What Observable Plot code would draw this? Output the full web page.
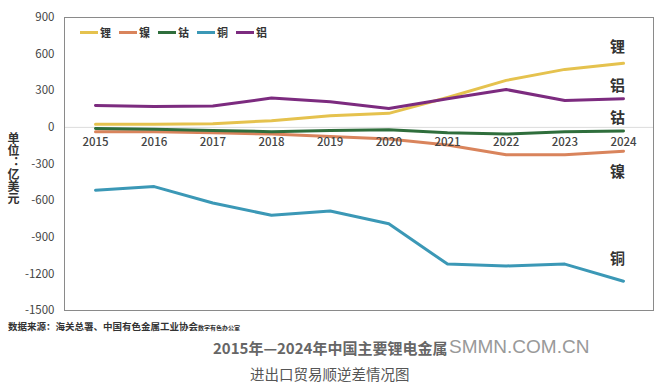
<!DOCTYPE html>
<html><head><meta charset="utf-8">
<script src="https://cdn.jsdelivr.net/npm/d3@7"></script>
<script src="https://cdn.jsdelivr.net/npm/@observablehq/plot@0.6"></script>
<style>
body{margin:0;background:#fff;font-family:"Noto Sans CJK SC","Noto Sans",sans-serif;}
#wrap{position:relative;width:658px;height:386px;overflow:hidden;}
#chart{position:absolute;left:0;top:0;}
.abs{position:absolute;white-space:nowrap;}
#legend{left:80px;top:24px;font-size:11px;font-weight:bold;color:#333;display:flex;align-items:center;}
#legend span.sw{display:inline-block;width:18px;height:3px;margin-right:2px;}
#legend span.lb{margin-right:8px;}
</style></head>
<body><div id="wrap"><div id="chart"></div>
<div class="abs" id="legend"></div>
<div class="abs" style="left:5px;top:132px;writing-mode:vertical-rl;font-size:12px;font-weight:bold;color:#333;letter-spacing:0px;">单位：亿美元</div>
<div class="abs" style="left:8px;top:319px;font-size:9.5px;font-weight:bold;color:#333;">数据来源：海关总署、中国有色金属工业协会<span style="font-size:6px;">数字有色办公室</span></div>
<div class="abs" style="left:213px;top:337px;font-size:15px;font-weight:bold;color:#666;">2015年—2024年中国主要锂电金属</div>
<div class="abs" style="left:449px;top:336px;font-size:19px;font-family:'Liberation Sans',sans-serif;color:#999;text-shadow:0 0 2px #fff;">SMMN.COM.CN</div>
<div class="abs" style="left:250px;top:363px;font-size:14.5px;color:#555;">进出口贸易顺逆差情况图</div>
</div>
<script>
const years = [2015,2016,2017,2018,2019,2020,2021,2022,2023,2024];
const seriesNames = ["锂","镍","钴","铜","铝"];
const colors = ["#e5c24e","#d9845c","#2f6e3c","#3b98b6","#7c2b7f"];
const lithium  = [25,25,30,55,95,115,245,385,475,525];
const nickel   = [-35,-35,-45,-55,-75,-95,-145,-225,-225,-195];
const cobalt   = [-10,-15,-25,-35,-25,-20,-45,-55,-35,-30];
const copper   = [-515,-485,-620,-720,-685,-790,-1120,-1135,-1120,-1260];
const aluminum = [180,170,175,240,210,155,235,310,220,235];
const yTicks = [-1500,-1200,-900,-600,-300,0,300,600,900];
const labelDy = {"锂":-16,"铝":-12,"钴":-13,"镍":21,"铜":-22};

const values = [lithium,nickel,cobalt,copper,aluminum];
const data = [];
seriesNames.forEach((s,i)=>years.forEach((y,j)=>data.push({series:s,year:y,value:values[i][j]})));
const last = seriesNames.map((s,i)=>({series:s,year:2024,value:values[i][values[i].length-1]}));

const marks = [
  Plot.ruleY([0],{stroke:"#dcdcdc",strokeWidth:1}),
  Plot.frame({stroke:"#8a8a8a",strokeWidth:1}),
  Plot.line(data,{x:"year",y:"value",z:"series",stroke:"series",strokeWidth:3,strokeLinejoin:"round",strokeLinecap:"round"}),
  Plot.text(years,{x:d=>d,y:()=>0,dy:15,text:d=>String(d),fontSize:11.5,fill:"#444",fontWeight:"500"}),
  Plot.axisY({ticks:yTicks,tickSize:0,tickPadding:10,fontSize:11.5,label:null,tickFormat:d=>String(d),color:"#444"}),
];
last.forEach(d=>marks.push(Plot.text([d],{x:"year",y:"value",text:"series",dx:-6,dy:labelDy[d.series],fontSize:15,fontWeight:"bold",fill:"#333"})));

const chart = Plot.plot({
  width:658,height:318,
  marginLeft:64,marginRight:5,marginTop:17,marginBottom:8,
  style:{fontFamily:"'Noto Sans CJK SC','Noto Sans',sans-serif",background:"transparent"},
  x:{domain:[2015,2024],range:[95,623],axis:null},
  y:{domain:[-1500,900],range:[310,17]},
  color:{domain:seriesNames,range:colors},
  marks
});
document.getElementById("chart").appendChild(chart);

const lg = document.getElementById("legend");
seriesNames.forEach((s,i)=>{
  const sw=document.createElement("span");sw.className="sw";sw.style.background=colors[i];
  const lb=document.createElement("span");lb.className="lb";lb.textContent=s;
  lg.appendChild(sw);lg.appendChild(lb);
});
</script></body></html>
